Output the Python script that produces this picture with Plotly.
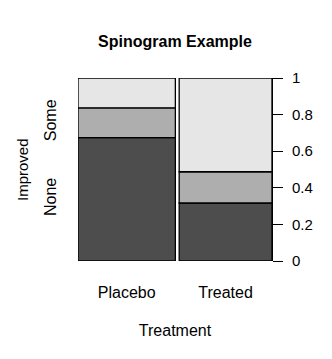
import plotly.graph_objects as go

treatments = ["Placebo", "Treated"]
levels = ["None", "Some", "Marked"]
counts = {
    "None": [29, 13],
    "Some": [7, 7],
    "Marked": [7, 21],
}
colors = ["#4D4D4D", "#AEAEAE", "#E6E6E6"]
ytick_vals = [0, 0.2, 0.4, 0.6, 0.8, 1]
ytick_text = ["0", "0.2", "0.4", "0.6", "0.8", "1"]
gap = 0.02

totals = [sum(counts[l][i] for l in levels) for i in range(len(treatments))]
grand = sum(totals)
widths = [t / grand for t in totals]
lefts = []
pos = 0.0
for w in widths:
    lefts.append(pos)
    pos += w + gap
centers = [l + w / 2 for l, w in zip(lefts, widths)]
xmax = pos - gap

fig = go.Figure()
cum = [0.0] * len(treatments)
left_mids = []
for lev, col in zip(levels, colors):
    props = [counts[lev][i] / totals[i] for i in range(len(treatments))]
    fig.add_trace(go.Bar(
        x=centers, y=props, base=list(cum), width=widths,
        marker=dict(color=col, line=dict(color="black", width=1.3)),
        showlegend=False, hoverinfo="skip"))
    left_mids.append(cum[0] + props[0] / 2)
    cum = [c + p for c, p in zip(cum, props)]

# invisible trace for left category axis
fig.add_trace(go.Scatter(x=[centers[0]], y=[0], yaxis="y2", mode="markers",
                         marker=dict(opacity=0), showlegend=False, hoverinfo="skip"))

fam = "Liberation Sans, Arial, sans-serif"
font = dict(family=fam, color="black", size=15)
font16 = dict(family=fam, color="black", size=16)

fig.update_layout(
    width=332, height=359,
    margin=dict(l=78, r=60, t=78, b=98),
    plot_bgcolor="white", paper_bgcolor="white",
    barmode="overlay",
    font=font,
    title=dict(text="<b>Spinogram Example</b>", x=175 / 332, xanchor="center",
               y=1 - 41 / 359, yanchor="middle", yref="container",
               font=dict(size=16, family=fam, color="black")),
    xaxis=dict(range=[0, xmax], tickvals=centers, ticktext=treatments,
               showgrid=False, zeroline=False, showline=False, ticks="",
               ticklabelstandoff=20, tickfont=font16,
               title=dict(text="Treatment", font=font16, standoff=24)),
    yaxis=dict(range=[0, 1], side="right", tickvals=ytick_vals, ticktext=ytick_text,
               ticks="outside", ticklen=10, tickwidth=1, tickcolor="black",
               showline=True, linecolor="black", linewidth=1,
               showgrid=False, zeroline=False, tickfont=font,
               ticklabelstandoff=6),
    yaxis2=dict(range=[0, 1], overlaying="y", side="left",
                tickvals=left_mids[:2], ticktext=levels[:2], tickangle=-90,
                ticks="", showline=False, showgrid=False, zeroline=False,
                tickfont=font16, ticklabelstandoff=18),
    annotations=[dict(text="Improved", xref="paper", yref="paper",
                      x=(22.5 - 78) / 194, y=0.5, textangle=-90,
                      showarrow=False, xanchor="center", yanchor="middle",
                      font=font)],
)

fig.write_html("out.html")
